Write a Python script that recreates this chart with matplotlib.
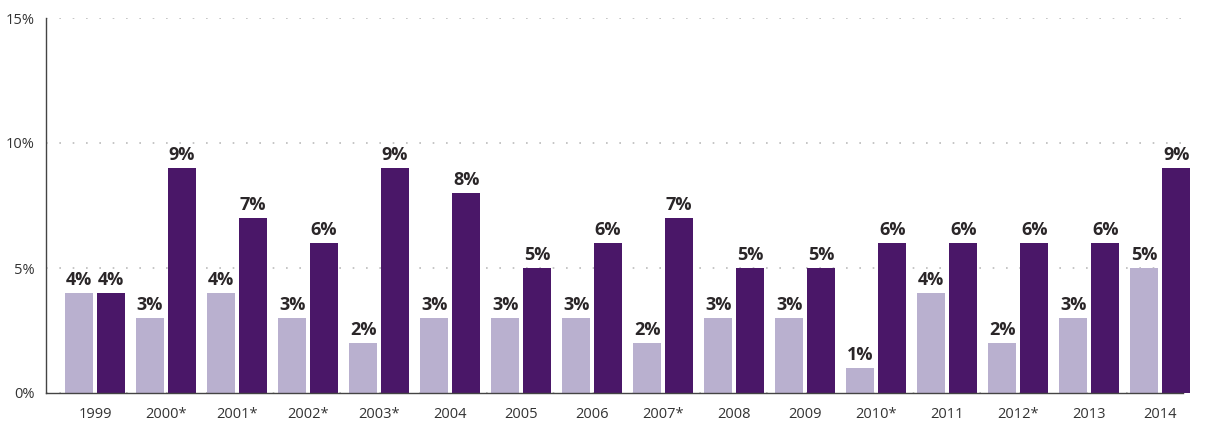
import numpy as np
import matplotlib
matplotlib.use("Agg")
import matplotlib.pyplot as plt
from matplotlib.ticker import FuncFormatter

years = ['1999', '2000*', '2001*', '2002*', '2003*', '2004', '2005', '2006',
         '2007*', '2008', '2009', '2010*', '2011', '2012*', '2013', '2014']
light_vals = [4, 3, 4, 3, 2, 3, 3, 3, 2, 3, 3, 1, 4, 2, 3, 5]
dark_vals = [4, 9, 7, 6, 9, 8, 5, 6, 7, 5, 5, 6, 6, 6, 6, 9]

light_color = '#b9b0cf'
dark_color = '#4a1768'

plt.rcParams['font.family'] = ['Open Sans', 'DejaVu Sans']

fig = plt.figure(figsize=(12.06, 4.25), dpi=100)
ax = fig.add_axes([46 / 1206, 32 / 425, (1183 - 46) / 1206, (393 - 18) / 425])

x = np.arange(len(years))
w = 0.394
off = 0.225
b1 = ax.bar(x - off, light_vals, w, color=light_color, zorder=3, clip_on=False)
b2 = ax.bar(x + off, dark_vals, w, color=dark_color, zorder=3, clip_on=False)

for bars, vals in ((b1, light_vals), (b2, dark_vals)):
    for r, v in zip(bars, vals):
        ax.annotate(f'{v}%', (r.get_x() + r.get_width() / 2, v),
                    xytext=(0, 3), textcoords='offset points',
                    ha='center', va='bottom', fontsize=13, fontweight='bold',
                    color='#2a2628', annotation_clip=False)

ax.set_xlim(-0.69, len(years) - 1 + 0.32)
ax.set_ylim(0, 15)
ax.set_yticks([0, 5, 10, 15])
ax.yaxis.set_major_formatter(FuncFormatter(lambda v, p: f'{int(v)}%'))
ax.set_xticks(x)
ax.set_xticklabels(years)
ax.tick_params(axis='both', length=0, labelsize=10.5, colors='#333333')
ax.tick_params(axis='x', pad=10)
ax.tick_params(axis='y', pad=8)

ax.grid(axis='y', linestyle=(0, (1, 7)), color='#bbbbbb', linewidth=1.2, zorder=0)
for s in ('top', 'right'):
    ax.spines[s].set_visible(False)
for s in ('left', 'bottom'):
    ax.spines[s].set_color('#444444')
    ax.spines[s].set_linewidth(1)
    ax.spines[s].set_zorder(4)

fig.savefig('out.png', dpi=100)
